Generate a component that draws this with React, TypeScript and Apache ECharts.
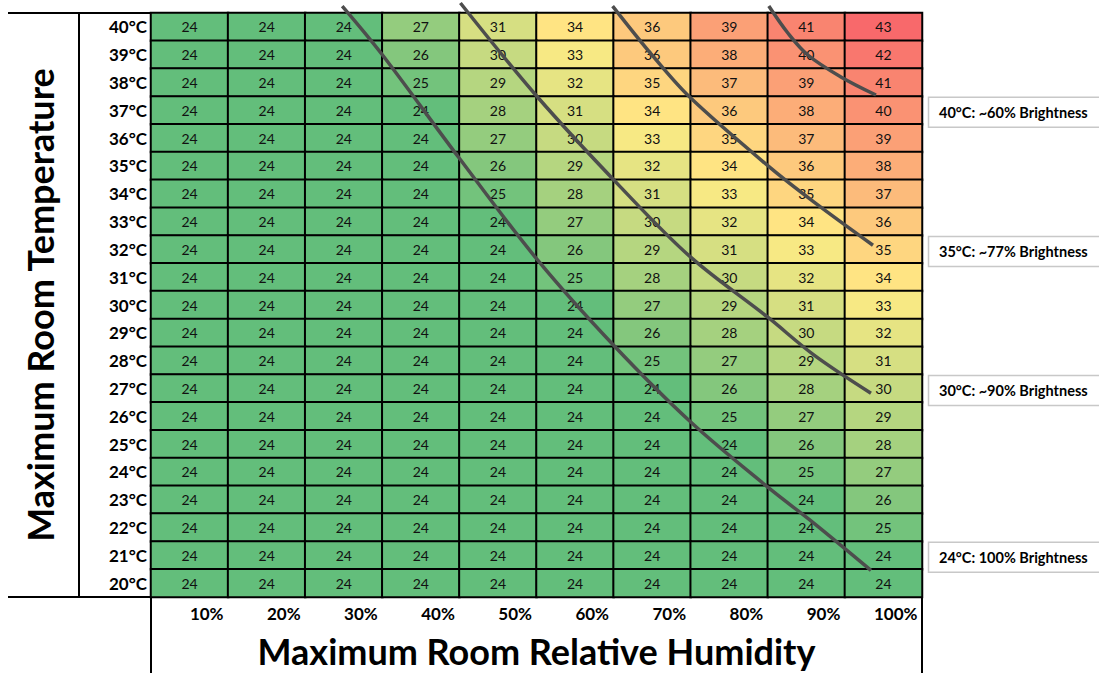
import React, { useEffect, useRef } from "react";
import * as echarts from "echarts";

const humidity = ["10%", "20%", "30%", "40%", "50%", "60%", "70%", "80%", "90%", "100%"];
const temps = ["20°C", "21°C", "22°C", "23°C", "24°C", "25°C", "26°C", "27°C", "28°C", "29°C", "30°C",
  "31°C", "32°C", "33°C", "34°C", "35°C", "36°C", "37°C", "38°C", "39°C", "40°C"];

// rows listed from 40°C (top) down to 20°C (bottom)
const valuesTopDown = [
  [24, 24, 24, 27, 31, 34, 36, 39, 41, 43],
  [24, 24, 24, 26, 30, 33, 36, 38, 40, 42],
  [24, 24, 24, 25, 29, 32, 35, 37, 39, 41],
  [24, 24, 24, 24, 28, 31, 34, 36, 38, 40],
  [24, 24, 24, 24, 27, 30, 33, 35, 37, 39],
  [24, 24, 24, 24, 26, 29, 32, 34, 36, 38],
  [24, 24, 24, 24, 25, 28, 31, 33, 35, 37],
  [24, 24, 24, 24, 24, 27, 30, 32, 34, 36],
  [24, 24, 24, 24, 24, 26, 29, 31, 33, 35],
  [24, 24, 24, 24, 24, 25, 28, 30, 32, 34],
  [24, 24, 24, 24, 24, 24, 27, 29, 31, 33],
  [24, 24, 24, 24, 24, 24, 26, 28, 30, 32],
  [24, 24, 24, 24, 24, 24, 25, 27, 29, 31],
  [24, 24, 24, 24, 24, 24, 24, 26, 28, 30],
  [24, 24, 24, 24, 24, 24, 24, 25, 27, 29],
  [24, 24, 24, 24, 24, 24, 24, 24, 26, 28],
  [24, 24, 24, 24, 24, 24, 24, 24, 25, 27],
  [24, 24, 24, 24, 24, 24, 24, 24, 24, 26],
  [24, 24, 24, 24, 24, 24, 24, 24, 24, 25],
  [24, 24, 24, 24, 24, 24, 24, 24, 24, 24],
  [24, 24, 24, 24, 24, 24, 24, 24, 24, 24],
];

// curves: [relative humidity %, temperature °C]
const curve24 = [[29.8, 40.75], [35.0, 39.0], [44.87, 35.32], [55.13, 31.62],
  [65.0, 28.55], [75.0, 25.79], [85.0, 23.45], [91.0, 22.15], [98.38, 20.46]];
const curve30 = [[45.13, 40.86], [55.13, 37.48], [65.91, 34.24],
  [75.0, 31.72], [85.0, 29.56], [91.0, 28.2], [98.38, 26.83]];
const curve35 = [[64.87, 40.75], [70.19, 38.92], [75.0, 37.44], [85.39, 34.92], [91.0, 33.7], [98.64, 32.15]];
const curve40 = [[85.13, 40.75], [87.6, 39.78], [90.19, 38.99], [94.48, 38.2], [99.03, 37.55]];

const annotations = ["40°C: ~60% Brightness", "35°C: ~77% Brightness", "30°C: ~90% Brightness", "24°C: 100% Brightness"];
const annotationRows = [37, 32, 27, 21];

const FONT = "Lato, 'Noto Sans', sans-serif";

export default function App() {
  const ref = useRef<HTMLDivElement>(null);
  useEffect(() => {
    if (!ref.current) return;
    const chart = echarts.init(ref.current, null, { renderer: "svg" });
    const data: number[][] = [];
    valuesTopDown.forEach((row, r) => {
      const yi = temps.length - 1 - r;
      row.forEach((v, xi) => data.push([xi, yi, v]));
    });
    const gridLeft = 151, gridTop = 13, gridW = 771, gridH = 584;
    const rowH = gridH / temps.length;
    const lineStyle = { color: "#4d4d4d", width: 3.5 };
    const curveSeries = [curve24, curve30, curve35, curve40].map((c) => ({
      type: "line",
      xAxisIndex: 1,
      yAxisIndex: 1,
      data: c,
      smooth: 0.35,
      showSymbol: false,
      symbol: "none",
      clip: false,
      lineStyle,
      z: 10,
      silent: true,
    }));
    const graphics: any[] = [
      { type: "line", shape: { x1: 8, y1: 13, x2: 151, y2: 13 }, style: { stroke: "#000", lineWidth: 2 } },
      { type: "line", shape: { x1: 8, y1: 597, x2: 151, y2: 597 }, style: { stroke: "#000", lineWidth: 2 } },
      { type: "line", shape: { x1: 79, y1: 13, x2: 79, y2: 597 }, style: { stroke: "#000", lineWidth: 2 } },
      { type: "line", shape: { x1: 151, y1: 597, x2: 151, y2: 673 }, style: { stroke: "#000", lineWidth: 2 } },
      { type: "line", shape: { x1: 922, y1: 597, x2: 922, y2: 673 }, style: { stroke: "#000", lineWidth: 2 } },
    ];
    annotations.forEach((t, i) => {
      const cy = gridTop + (40 - annotationRows[i] + 0.5) * rowH + 2;
      graphics.push({
        type: "rect",
        shape: { x: 928.5, y: cy - 15, width: 180, height: 30 },
        style: { fill: "#fff", stroke: "#c8c8c8", lineWidth: 1.5 },
      });
      graphics.push({
        type: "text",
        x: 939,
        y: cy,
        style: { text: t, font: `bold 14.5px ${FONT}`, fill: "#000", verticalAlign: "middle", align: "left" },
      });
    });
    chart.setOption({
      animation: false,
      grid: [
        { left: gridLeft, top: gridTop, width: gridW, height: gridH, outerBoundsMode: "none", containLabel: false },
        { left: gridLeft, top: gridTop, width: gridW, height: gridH, outerBoundsMode: "none", containLabel: false },
      ],
      xAxis: [
        {
          type: "category",
          data: humidity,
          gridIndex: 0,
          axisLine: { show: false },
          axisTick: { show: false },
          splitLine: { show: false },
          axisLabel: {
            margin: 8,
            align: "left",
            formatter: (v: string) => `{a|${v}}`,
            rich: { a: { width: 34, align: "right", fontFamily: FONT, fontWeight: "bold", fontSize: 17, color: "#000" } },
          },
          name: "Maximum Room Relative Humidity",
          nameLocation: "middle",
          nameGap: 36,
          nameTextStyle: { fontFamily: FONT, fontWeight: "bold", fontSize: 36, color: "#000" },
        },
        { type: "value", gridIndex: 1, min: 5, max: 105, show: false },
      ],
      yAxis: [
        {
          type: "category",
          data: temps,
          gridIndex: 0,
          axisLine: { show: false },
          axisTick: { show: false },
          splitLine: { show: false },
          axisLabel: { margin: 4, fontFamily: FONT, fontWeight: "bold", fontSize: 17, color: "#000" },
          name: "Maximum Room Temperature",
          nameLocation: "middle",
          nameGap: 93,
          nameRotate: 90,
          nameTextStyle: { fontFamily: FONT, fontWeight: "bold", fontSize: 36, color: "#000" },
        },
        { type: "value", gridIndex: 1, min: 19.5, max: 40.5, show: false },
      ],
      visualMap: {
        show: false,
        type: "continuous",
        min: 24,
        max: 43,
        dimension: 2,
        seriesIndex: 0,
        inRange: { color: ["#63BE7B", "#FFEB84", "#F8696B"] },
      },
      series: [
        {
          type: "heatmap",
          data,
          xAxisIndex: 0,
          yAxisIndex: 0,
          label: {
            show: true,
            formatter: (p: any) => String(p.value[2]),
            fontFamily: FONT,
            fontSize: 14,
            color: "#111",
          },
          itemStyle: { borderColor: "#000", borderWidth: 2 },
          emphasis: { disabled: true },
          silent: true,
        },
        ...curveSeries,
      ],
      graphic: graphics,
    });
    return () => chart.dispose();
  }, []);
  return <div ref={ref} style={{ position: "fixed", left: 0, top: 0, width: 1099, height: 673, background: "#fff" }} />;
}
